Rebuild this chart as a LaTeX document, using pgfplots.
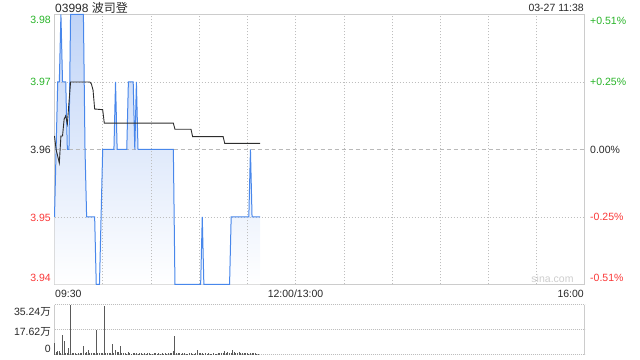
\documentclass[border=0pt]{standalone}
\usepackage{fontspec}
\setmainfont{Liberation Sans}
\newfontfamily\cjk{Noto Sans CJK SC}
\usepackage{pgfplots}
\usepackage{pgfplotstable}
\pgfplotsset{compat=1.18}
\definecolor{gridc}{RGB}{204,204,204}
\definecolor{gridv}{RGB}{190,190,190}
\definecolor{gridd}{RGB}{185,185,185}
\definecolor{greenc}{RGB}{40,180,40}
\definecolor{redc}{RGB}{250,55,55}
\definecolor{darkc}{RGB}{40,40,40}
\definecolor{bluec}{RGB}{72,135,235}
\definecolor{fillc}{RGB}{192,212,247}
\definecolor{avgc}{RGB}{45,45,45}
\definecolor{volc}{RGB}{90,90,90}
\definecolor{sinac}{RGB}{205,205,205}
\newcommand\lab{\fontsize{10.5bp}{12bp}\selectfont}

\pgfplotstableread{
m p
0 3.95
1 3.96
2 3.97
3 3.97
4 3.98
5 3.97
7 3.97
8 3.96
9 3.96
10 3.98
18 3.98
19 3.96
20 3.95
25 3.95
26 3.94
28 3.94
29 3.95
30 3.96
37 3.96
38 3.97
39 3.96
45 3.96
46 3.97
49 3.97
50 3.96
51 3.97
52 3.96
74 3.96
75 3.94
91 3.94
92 3.95
93 3.94
109 3.94
110 3.95
121 3.95
122 3.96
123 3.95
128 3.95
}\price

\pgfplotstableread{
m p
0 3.94
0 3.95
1 3.96
2 3.97
3 3.97
4 3.98
5 3.97
7 3.97
8 3.96
9 3.96
10 3.98
18 3.98
19 3.96
20 3.95
25 3.95
26 3.94
28 3.94
29 3.95
30 3.96
37 3.96
38 3.97
39 3.96
45 3.96
46 3.97
49 3.97
50 3.96
51 3.97
52 3.96
74 3.96
75 3.94
91 3.94
92 3.95
93 3.94
109 3.94
110 3.95
121 3.95
122 3.96
123 3.95
128 3.95
128 3.94
}\fillarea

\pgfplotstableread{
m a
0 3.9620
1 3.9600
3 3.9580
4 3.9620
5 3.9620
6 3.9645
7 3.9650
8 3.9638
10 3.9700
22 3.9700
23 3.9697
24 3.9688
25 3.9660
30 3.9659
31 3.9639
74 3.9639
75 3.9630
85 3.9630
86 3.9619
105 3.9619
106 3.9609
128 3.9609
}\avg

\pgfplotstableread{
m v
0 8.0
1 1.5
2 2.6
3 2.4
4 0.8
5 13.4
6 9.6
7 1.2
8 0.9
9 4.4
10 35.24
11 0.9
12 0.8
13 1.0
14 0.7
15 0.9
16 0.8
17 1.1
18 6.0
19 1.2
20 2.0
21 3.5
22 1.0
23 0.9
24 0.8
25 1.2
26 17.4
27 0.9
28 0.8
29 1.0
30 1.1
31 34.0
32 0.9
33 1.2
34 0.8
35 1.0
36 7.5
37 1.4
38 3.5
39 1.6
40 2.0
41 6.0
42 1.0
43 0.8
44 0.9
45 0.7
46 1.5
47 0.8
48 0.6
49 1.3
50 0.9
51 1.1
52 0.7
53 1.4
54 0.8
55 0.6
56 1.0
57 0.7
58 0.9
59 0.8
60 0.6
61 0.7
62 1.0
63 0.8
64 0.6
65 0.9
66 0.7
67 0.8
68 0.6
69 0.9
70 0.7
71 0.8
72 1.0
73 1.1
74 2.5
75 12.7
76 0.9
77 0.8
78 1.0
79 0.7
80 0.8
81 0.9
82 0.6
83 0.7
84 0.9
85 0.8
86 0.7
87 0.6
88 1.0
89 3.5
90 0.9
91 0.8
92 1.0
93 0.7
94 0.8
95 0.6
96 0.9
97 0.7
98 0.6
99 0.8
100 0.7
101 0.6
102 0.9
103 0.8
104 1.0
105 1.2
106 2.5
107 1.3
108 1.6
109 0.9
110 1.2
111 3.0
112 2.0
113 1.0
114 0.8
115 1.5
116 0.9
117 1.3
118 0.8
119 1.0
120 1.4
121 0.7
122 1.2
123 0.9
124 0.8
125 1.0
126 0.7
127 0.6
}\vol

\begin{document}
\begin{tikzpicture}
\useasboundingbox (0,0) rectangle (640bp,360bp);
\begin{axis}[
  at={(54.5bp,75.5bp)}, anchor=south west,
  scale only axis, width=530bp, height=270bp,
  xmin=0, xmax=330, ymin=3.94, ymax=3.98,
  clip=false,
  axis line style={draw=gridc, line width=1bp},
  xtick=\empty, ytick=\empty,
]
\addplot[draw=none, top color=fillc, bottom color=white] table[x=m,y=p] {\fillarea};
% pixel-aligned grid
\foreach \gx in {29.887,60.396,90.283,120.170,150.057,180.566,210.453,240.340,270.226,300.113}{
  \edef\tmp{\noexpand\draw[gridv, line width=1bp, dash pattern=on 1bp off 2bp] (axis cs:\gx,3.94) -- (axis cs:\gx,3.98);}\tmp
}
\draw[gridv, line width=1bp, dash pattern=on 1bp off 2bp] (axis cs:0,3.969926) -- (axis cs:330,3.969926);
\draw[gridv, line width=1bp, dash pattern=on 1bp off 2bp] (axis cs:0,3.949926) -- (axis cs:330,3.949926);
\draw[gridd, line width=1bp, dash pattern=on 4bp off 3bp] (axis cs:0,3.96) -- (axis cs:330,3.96);
\addplot[draw=bluec, line width=1bp] table[x=m,y=p] {\price};
\addplot[draw=avgc, line width=0.9bp] table[x=m,y=a] {\avg};
\end{axis}

\begin{axis}[
  at={(54.5bp,5.5bp)}, anchor=south west,
  scale only axis, width=530bp, height=50bp,
  xmin=0, xmax=330, ymin=0, ymax=35.24,
  clip=false,
  axis line style={draw=none},
  xtick=\empty, ytick={0,17.62,35.24}, yticklabels={},
  major tick length=0pt,
  ymajorgrids,
  major grid style={draw=gridv, line width=1bp, dash pattern=on 1bp off 1bp},
]
\draw[gridc, line width=1bp] (rel axis cs:0,0) -- (rel axis cs:0,1);
\draw[gridc, line width=1bp] (rel axis cs:1,0) -- (rel axis cs:1,1);
\addplot[ycomb, draw=volc, line width=1bp] table[x=m,y=v] {\vol};
\end{axis}

% left price labels
\node[anchor=base east, inner sep=0, font=\lab, text=greenc] at (51bp,336bp) {3.98};
\node[anchor=base east, inner sep=0, font=\lab, text=greenc] at (51bp,274bp) {3.97};
\node[anchor=base east, inner sep=0, font=\lab, text=darkc] at (51bp,206.7bp) {3.96};
\node[anchor=base east, inner sep=0, font=\lab, text=redc] at (51bp,138.7bp) {3.95};
\node[anchor=base east, inner sep=0, font=\lab, text=redc] at (51bp,78.3bp) {3.94};
% right percent labels
\node[anchor=base west, inner sep=0, font=\lab, text=greenc] at (590bp,335.7bp) {+0.51\%};
\node[anchor=base west, inner sep=0, font=\lab, text=greenc] at (590bp,274bp) {+0.25\%};
\node[anchor=base west, inner sep=0, font=\lab, text=darkc] at (590bp,206.7bp) {0.00\%};
\node[anchor=base west, inner sep=0, font=\lab, text=redc] at (590bp,139bp) {-0.25\%};
\node[anchor=base west, inner sep=0, font=\lab, text=redc] at (590bp,78bp) {-0.51\%};
% time labels
\node[anchor=base west, inner sep=0, font=\lab, text=darkc] at (55bp,62.7bp) {09:30};
\node[anchor=base, inner sep=0, font=\lab, text=darkc] at (295.5bp,62.7bp) {12:00/13:00};
\node[anchor=base east, inner sep=0, font=\lab, text=darkc] at (584bp,62.7bp) {16:00};
% volume labels
\node[anchor=base east, inner sep=0, font=\lab, text=darkc] at (51bp,44bp) {35.24{\cjk 万}};
\node[anchor=base east, inner sep=0, font=\lab, text=darkc] at (51bp,25bp) {17.62{\cjk 万}};
\node[anchor=base east, inner sep=0, font=\lab, text=darkc] at (51bp,7.3bp) {0};
% title, date, watermark
\node[anchor=base west, inner sep=0, font=\fontsize{12bp}{14bp}\selectfont, text=darkc] at (55bp,347.3bp) {03998 {\cjk 波司登}};
\node[anchor=base east, inner sep=0, font=\lab, text=darkc] at (584bp,348.3bp) {03-27 11:38};
\node[anchor=base, inner sep=0, font=\lab, text=sinac] at (552.5bp,77.5bp) {sina.com};
\end{tikzpicture}
\end{document}
